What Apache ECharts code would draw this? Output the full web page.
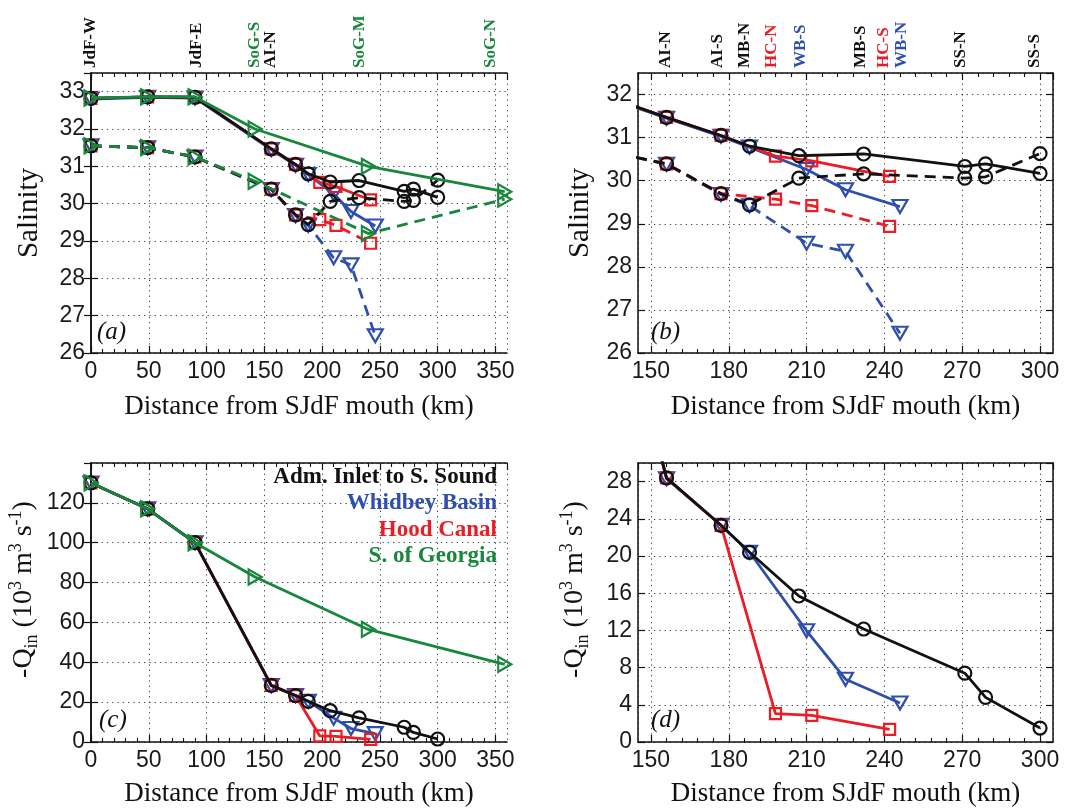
<!DOCTYPE html>
<html><head><meta charset="utf-8">
<script src="https://cdn.jsdelivr.net/npm/echarts@6/dist/echarts.min.js"></script>
<style>html,body{margin:0;padding:0;background:#fff}#c{width:1066px;height:810px}</style>
</head><body><div id="c"></div>
<script>
// ---------------- DATA ----------------
// Distance along each path from SJdF mouth (km)
const xAIS = [0, 49, 90, 156, 177, 188, 207, 232, 271, 279, 300];   // Adm. Inlet to S. Sound
const xWB  = [0, 49, 90, 156, 177, 188, 210, 225, 246];             // Whidbey Basin
const xHC  = [0, 49, 90, 156, 177, 198, 212, 242];                  // Hood Canal
const xSoG = [0, 49, 90, 142, 240, 358];                            // S. of Georgia

// Salinity, upper layer (solid) and lower layer (dashed)
const sAIS_up = [32.82, 32.86, 32.85, 31.47, 31.05, 30.80, 30.58, 30.62, 30.33, 30.39, 30.17];
const sAIS_lo = [31.55, 31.50, 31.25, 30.39, 29.70, 29.44, 30.06, 30.16, 30.06, 30.09, 30.63];
const sWB_up  = [32.80, 32.85, 32.83, 31.45, 31.03, 30.78, 30.26, 29.79, 29.40];
const sWB_lo  = [31.55, 31.50, 31.25, 30.38, 29.68, 29.42, 28.55, 28.36, 26.46];
const sHC_up  = [32.82, 32.86, 32.85, 31.47, 31.05, 30.57, 30.46, 30.10];
const sHC_lo  = [31.55, 31.50, 31.25, 30.39, 29.70, 29.57, 29.42, 28.94];
const sSoG_up = [32.83, 32.86, 32.86, 32.00, 31.00, 30.32];
const sSoG_lo = [31.55, 31.50, 31.25, 30.60, 29.20, 30.12];

// -Q_in (10^3 m^3 s^-1)
const qAIS = [130, 117, 100, 28.4, 23.3, 20.4, 15.7, 12.15, 7.4, 4.8, 1.5];
const qWB  = [130, 117, 100, 28.3, 23.3, 20.4, 11.96, 6.75, 4.2];
const qHC  = [130, 117, 100, 28.4, 23.3, 3.05, 2.86, 1.35];
const qSoG = [130, 117, 100, 82.8, 56.5, 39.0];

// Station labels along the top of panels (a) and (b)
const stNamesA = ['JdF-W', 'JdF-E', 'SoG-S', 'AI-N', 'SoG-M', 'SoG-N'];
const stPosA   = [0, 91, 141.5, 155, 232.5, 346];
const stColA   = ['k', 'k', 'g', 'k', 'g', 'g'];
const stNamesB = ['AI-N', 'AI-S', 'MB-N', 'HC-N', 'WB-S', 'MB-S', 'HC-S', 'WB-N', 'SS-N', 'SS-S'];
const stPosB   = [155.5, 175.5, 186, 196.5, 207.5, 231, 239.5, 246.5, 269.5, 298];
const stColB   = ['k', 'k', 'k', 'r', 'b', 'k', 'r', 'b', 'k', 'k'];

// Legend entries (panel c)
const legendNames = ['Adm. Inlet to S. Sound', 'Whidbey Basin', 'Hood Canal', 'S. of Georgia'];
const legendCols  = ['k', 'b', 'r', 'g'];

// ---------------- STYLE ----------------
const COL = {k: '#111111', b: '#2f4fae', r: '#ec1c24', g: '#17873c'};
const SANS = '"Liberation Sans", Arial, Helvetica, sans-serif';
const SERIF = '"Liberation Serif", "Times New Roman", serif';

const grids = [
  {left: 91, top: 73, width: 416, height: 280},
  {left: 638, top: 73, width: 415, height: 280},
  {left: 91, top: 463, width: 416, height: 279},
  {left: 638, top: 463, width: 415, height: 279}
];

function rangeTicks(a, b, step, majorStep) {
  const out = [];
  for (let v = a; v <= b + 1e-9; v += step) {
    const r = Math.round(v * 1000) / 1000;
    if (Math.abs(r / majorStep - Math.round(r / majorStep)) > 1e-6) out.push(r);
  }
  return out;
}
const minorWide = rangeTicks(10, 350, 10, 50);
const minorNarrow = rangeTicks(150, 300, 6, 30);

const xWide = {min: 0, max: 360, interval: 50};
const xNarrow = {min: 145, max: 305, minInterval: 30, maxInterval: 30, splitNumber: 5};

const axisLineStyle = {show: true, lineStyle: {color: '#111', width: 1.5}};
const tickMajor = {show: true, inside: true, length: 7, lineStyle: {color: '#111', width: 1.2}};
const tickMinor = (vals) => ({show: true, inside: true, length: 4, customValues: vals, lineStyle: {color: '#111', width: 1.1}});
const gridLine = {show: true, lineStyle: {color: '#444', type: [1.3, 4], width: 1}};
const tickLabel = {show: true, fontFamily: SANS, fontSize: 23, color: '#1a1a1a', margin: 7, showMaxLabel: false};

function stationLabel(names, pos, cols) {
  const st = (c) => ({color: COL[c], fontFamily: SERIF, fontWeight: 'bold', fontSize: 17});
  return {
    show: true, customValues: pos, rotate: -90, margin: 5,
    formatter: function (v) {
      for (let i = 0; i < pos.length; i++) {
        if (Math.abs(pos[i] - v) < 1e-6) return '{' + cols[i] + '|' + names[i] + '}';
      }
      return '';
    },
    rich: {k: st('k'), g: st('g'), r: st('r'), b: st('b')}
  };
}

const xNameStyle = {fontFamily: SERIF, fontSize: 27, color: '#111'};
const qName = '{t|-Q}{s|in}{t| (10}{p|3}{t| m}{p|3}{t| s}{p|-1}{t|)}';
const qRich = {
  t: {fontFamily: SERIF, fontSize: 28, lineHeight: 34, color: '#111', verticalAlign: 'middle'},
  s: {fontFamily: SERIF, fontSize: 18, lineHeight: 16, color: '#111', verticalAlign: 'bottom'},
  p: {fontFamily: SERIF, fontSize: 18, lineHeight: 18, color: '#111', verticalAlign: 'top'}
};

const panelCfg = [
  {x: xWide, minor: minorWide, y: {min: 26, max: 33.5, interval: 1}, yName: 'Salinity', yGap: 47, st: [stNamesA, stPosA, stColA], xGap: 40},
  {x: xNarrow, minor: minorNarrow, y: {min: 26, max: 32.5, interval: 1}, yName: 'Salinity', yGap: 43, st: [stNamesB, stPosB, stColB], xGap: 40},
  {x: xWide, minor: minorWide, y: {min: 0, max: 140, interval: 20}, yName: qName, yGap: 50, st: null, xGap: 38},
  {x: xNarrow, minor: minorNarrow, y: {min: 0, max: 30, interval: 4}, yName: qName, yGap: 46, st: null, xGap: 38}
];

const xAxes = [], yAxes = [];
panelCfg.forEach((p, g) => {
  const xb = Object.assign({}, p.x);
  xAxes.push(Object.assign({}, xb, {
    type: 'value', gridIndex: g, position: 'bottom',
    axisLine: axisLineStyle, axisTick: tickMajor, minorTick: {show: false},
    axisLabel: Object.assign({}, tickLabel, {showMinLabel: p.x.min === 0}),
    splitLine: gridLine,
    name: 'Distance from SJdF mouth (km)', nameLocation: 'middle', nameGap: p.xGap, nameTextStyle: xNameStyle
  }));
  xAxes.push(Object.assign({}, xb, {
    type: 'value', gridIndex: g, position: 'bottom',
    axisLine: {show: false}, axisTick: tickMinor(p.minor), axisLabel: {show: false}, splitLine: {show: false}
  }));
  xAxes.push(Object.assign({}, xb, {
    type: 'value', gridIndex: g, position: 'top',
    axisLine: axisLineStyle, axisTick: tickMajor,
    axisLabel: p.st ? stationLabel(p.st[0], p.st[1], p.st[2]) : {show: false},
    splitLine: {show: false}
  }));
  xAxes.push(Object.assign({}, xb, {
    type: 'value', gridIndex: g, position: 'top',
    axisLine: {show: false}, axisTick: tickMinor(p.minor), axisLabel: {show: false}, splitLine: {show: false}
  }));
  yAxes.push(Object.assign({}, p.y, {
    type: 'value', gridIndex: g, position: 'left',
    axisLine: axisLineStyle, axisTick: tickMajor,
    axisLabel: Object.assign({}, tickLabel, {margin: 6}),
    splitLine: gridLine,
    name: p.yName, nameLocation: 'middle', nameGap: p.yGap,
    nameTextStyle: g < 2 ? {fontFamily: SERIF, fontSize: 29, color: '#111'} : {rich: qRich, padding: [0, 0, 0, 26]}
  }));
  yAxes.push(Object.assign({}, p.y, {
    type: 'value', gridIndex: g, position: 'right',
    axisLine: axisLineStyle, axisTick: tickMajor, axisLabel: {show: false}, splitLine: {show: false}
  }));
});

const SYM = {
  circle: {symbol: 'circle', size: 13},
  square: {symbol: 'rect', size: 11},
  down: {symbol: 'path://M0,0L10,0L5,8.7Z', size: [15, 13]},
  right: {symbol: 'path://M0,0L8.7,5L0,10Z', size: [13, 15]}
};

function zip(xs, ys) { return xs.map((x, i) => [x, ys[i]]); }
function line(g, xs, ys, col, sym, dashed, z) {
  const s = SYM[sym];
  return {
    type: 'line', xAxisIndex: 4 * g, yAxisIndex: 2 * g, data: zip(xs, ys),
    symbol: s.symbol, symbolSize: s.size, showAllSymbol: true, clip: true,
    lineStyle: {color: COL[col], width: 2.8, type: dashed ? [11, 7] : 'solid'},
    itemStyle: {color: 'rgba(255,255,255,0)', borderColor: COL[col], borderWidth: 2.2},
    emphasis: {disabled: true}, silent: true, z: z, animation: false
  };
}

const series = [];
// Panel (a): all four paths; panel (b): Puget Sound paths only
series.push(line(0, xWB, sWB_up, 'b', 'down', false, 2));
series.push(line(0, xWB, sWB_lo, 'b', 'down', true, 2));
series.push(line(0, xHC, sHC_up, 'r', 'square', false, 3));
series.push(line(0, xHC, sHC_lo, 'r', 'square', true, 3));
series.push(line(0, xAIS, sAIS_up, 'k', 'circle', false, 4));
series.push(line(0, xAIS, sAIS_lo, 'k', 'circle', true, 4));
series.push(line(0, xSoG, sSoG_up, 'g', 'right', false, 5));
series.push(line(0, xSoG, sSoG_lo, 'g', 'right', true, 5));

series.push(line(1, xWB, sWB_up, 'b', 'down', false, 2));
series.push(line(1, xWB, sWB_lo, 'b', 'down', true, 2));
series.push(line(1, xHC, sHC_up, 'r', 'square', false, 3));
series.push(line(1, xHC, sHC_lo, 'r', 'square', true, 3));
series.push(line(1, xAIS, sAIS_up, 'k', 'circle', false, 4));
series.push(line(1, xAIS, sAIS_lo, 'k', 'circle', true, 4));

series.push(line(2, xWB, qWB, 'b', 'down', false, 2));
series.push(line(2, xHC, qHC, 'r', 'square', false, 3));
series.push(line(2, xAIS, qAIS, 'k', 'circle', false, 4));
series.push(line(2, xSoG, qSoG, 'g', 'right', false, 5));

series.push(line(3, xWB, qWB, 'b', 'down', false, 2));
series.push(line(3, xHC, qHC, 'r', 'square', false, 3));
series.push(line(3, xAIS, qAIS, 'k', 'circle', false, 4));

const letterFont = {fontFamily: SERIF, fontStyle: 'italic', fontSize: 25, fill: '#111'};
const graphics = [
  {type: 'text', x: 97, y: 320, style: Object.assign({text: '(a)'}, letterFont)},
  {type: 'text', x: 651, y: 320, style: Object.assign({text: '(b)'}, letterFont)},
  {type: 'text', x: 99, y: 708, style: Object.assign({text: '(c)'}, letterFont)},
  {type: 'text', x: 651, y: 708, style: Object.assign({text: '(d)'}, letterFont)}
];
const legendY = [477, 503, 530, 556];
legendNames.forEach((n, i) => {
  graphics.push({type: 'text', x: 497, y: legendY[i], z: 10,
    style: {text: n, align: 'right', verticalAlign: 'middle', fontFamily: SERIF, fontWeight: 'bold', fontSize: 23, fill: COL[legendCols[i]]}});
});

const chart = echarts.init(document.getElementById('c'), null, {renderer: 'canvas'});
chart.setOption({
  backgroundColor: '#ffffff',
  animation: false,
  grid: grids.map(g => Object.assign({containLabel: false, outerBoundsMode: 'none', show: false}, g)),
  xAxis: xAxes,
  yAxis: yAxes,
  series: series,
  graphic: graphics
});
</script></body></html>
